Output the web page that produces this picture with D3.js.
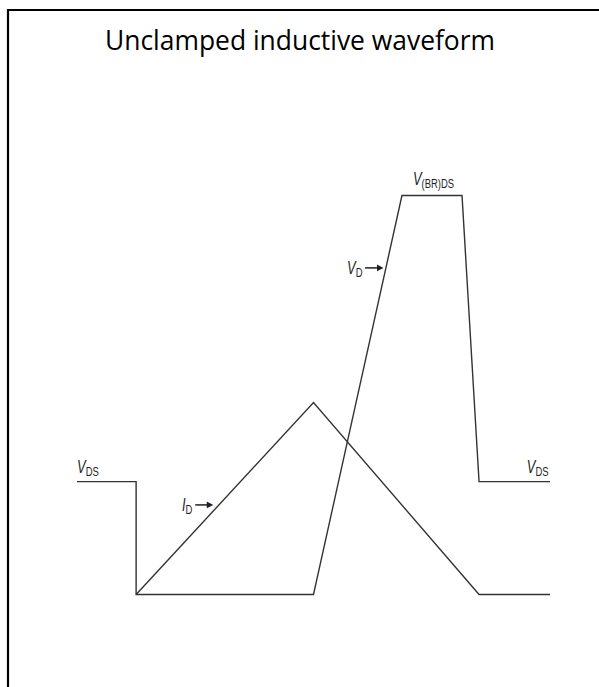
<!DOCTYPE html>
<html>
<head>
<meta charset="utf-8">
<script src="https://cdn.jsdelivr.net/npm/d3@7"></script>
<style>
html,body{margin:0;padding:0;background:#fff;}
svg{display:block;}
</style>
</head>
<body>
<script>
// ---- data (time in arbitrary units 0..100, amplitude normalised 0..100) ----
const titleText = "Unclamped inductive waveform";
const vdTime  = [0,    12.5, 12.5, 50, 68.7, 81.4, 85,   100];
const vdLevel = [28.3, 28.3, 0,    0,  100,  100,  28.3, 28.3];
const idTime  = [12.5, 50,   85, 100];
const idLevel = [0,    48.1, 0,  0];

const W = 599, H = 687;
const svg = d3.select("body").append("svg").attr("width", W).attr("height", H);

// frame (partially cropped)
svg.append("path")
  .attr("d", d3.line()([[W + 5, 10], [8, 10], [8, H + 5]]))
  .attr("fill", "none").attr("stroke", "#000").attr("stroke-width", 2.2);

// title
svg.append("text")
  .attr("x", 300).attr("y", 50)
  .attr("text-anchor", "middle")
  .attr("font-family", "'Open Sans', 'Noto Sans', sans-serif")
  .attr("font-size", 27.5)
  .attr("fill", "#000")
  .attr("textLength", 390).attr("lengthAdjust", "spacingAndGlyphs")
  .text(titleText);

const x = d3.scaleLinear().domain([0, 100]).range([77, 550]);
const y = d3.scaleLinear().domain([0, 100]).range([594.5, 195.5]);

const line = d3.line().x(d => x(d[0])).y(d => y(d[1]));
const vd = d3.zip(vdTime, vdLevel);
const id = d3.zip(idTime, idLevel);

svg.append("path").datum(vd).attr("d", line)
  .attr("fill", "none").attr("stroke", "#333").attr("stroke-width", 1.4)
  .attr("stroke-linejoin", "miter");
svg.append("path").datum(id).attr("d", line)
  .attr("fill", "none").attr("stroke", "#333").attr("stroke-width", 1.4);

// labels (condensed Helvetica-like look)
const lf = "'Liberation Sans', Arial, sans-serif";
function label(px, py, main, sub) {
  const g = svg.append("g").attr("transform", `translate(${px},${py}) scale(0.7,1)`);
  const t = g.append("text").attr("x", 0).attr("y", 0)
    .attr("font-family", lf).attr("fill", "#1e1e28");
  t.append("tspan").attr("font-size", 18.5)
    .attr("font-style", "italic").text(main);
  t.append("tspan").attr("font-size", 13.5).attr("dy", 3).text(sub);
  return t;
}
function arrow(x1, x2, yy) {
  svg.append("line").attr("x1", x1).attr("x2", x2 - 5).attr("y1", yy).attr("y2", yy)
    .attr("stroke", "#1e1e28").attr("stroke-width", 1.5);
  svg.append("path")
    .attr("d", d3.line()([[x2 - 6.5, yy - 3.4], [x2, yy], [x2 - 6.5, yy + 3.4]]) + "Z")
    .attr("fill", "#1e1e28");
}

// V_DS left
label(x(vdTime[0]), y(vdLevel[0]) - 9, "V", "DS");
// I_D with arrow (along the rising current ramp)
label(x(22.2), y(21.2) + 1, "I", "D");
arrow(x(25.0), x(28.8), y(21.2) - 5);
// V_D with arrow
label(x(57.1), y(80.6) + 1, "V", "D");
arrow(x(60.9), x(64.8), y(80.6) - 5);
// V_(BR)DS
label(x(vdTime[4]) + 11, y(vdLevel[4]) - 11, "V", "(BR)DS");
// V_DS right
label(x(95.1), y(vdLevel[7]) - 9, "V", "DS");
</script>
</body>
</html>
